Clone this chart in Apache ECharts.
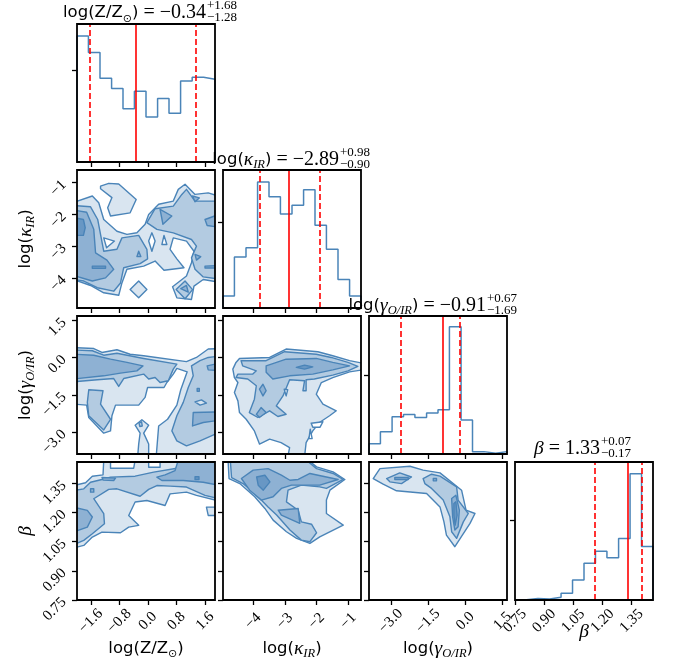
<!DOCTYPE html>
<html>
<head>
<meta charset="utf-8">
<script src="https://cdn.jsdelivr.net/npm/echarts@6.0.0/dist/echarts.min.js"></script>
<style>
  html, body { margin: 0; background: #fff; }
  #chart { width: 673px; height: 663px; }
</style>
</head>
<body>
<div id="chart"></div>
<script>
// axis ranges and ticks
const zRange = [-1.99, 1.88];
const kRange = [-4.95, -0.60];
const gRange = [-3.88, 1.68];
const bRange = [0.75, 1.46];

const zTicks = [-1.6, -0.8, 0.0, 0.8, 1.6];
const kTicks = [-4, -3, -2, -1];
const gTicks = [-3.0, -1.5, 0.0, 1.5];
const bTicks = [0.75, 0.90, 1.05, 1.20, 1.35];

// 1D histograms (12 bins each, height in units of the single y tick)
const zEdges = [-1.99, -1.67, -1.345, -1.02, -0.70, -0.38, -0.055, 0.27, 0.59, 0.915, 1.24, 1.56, 1.88];
const zHist = [1.37, 1.19, 0.91, 0.80, 0.58, 0.77, 0.49, 0.69, 0.53, 0.88, 0.92, 0.90];
const kEdges = [-4.95, -4.59, -4.225, -3.86, -3.50, -3.14, -2.775, -2.41, -2.05, -1.69, -1.325, -0.96, -0.60];
const kHist = [0.14, 0.59, 0.70, 1.46, 1.29, 1.09, 1.19, 1.37, 0.96, 0.68, 0.33, 0.14];
const gEdges = [-3.88, -3.42, -2.95, -2.49, -2.03, -1.56, -1.10, -0.64, -0.17, 0.29, 0.75, 1.22, 1.68];
const gHist = [0.13, 0.28, 0.47, 0.50, 0.46, 0.52, 0.56, 1.61, 0.43, 0.03, 0.01, 0.03];
const bEdges = [0.75, 0.809, 0.868, 0.928, 0.987, 1.046, 1.105, 1.164, 1.223, 1.283, 1.342, 1.401, 1.46];
const bHist = [0.004, 0.02, 0.012, 0.033, 0.083, 0.25, 0.46, 0.61, 0.53, 0.77, 1.58, 0.67];

// median, +err, -err
const zQuant = [-0.34, 1.68, 1.28];
const kQuant = [-2.89, 0.98, 0.90];
const gQuant = [-0.91, 0.67, 1.69];
const bQuant = [1.33, 0.07, 0.17];

// 2D contours: [level, polygon in data units], painted in order (0 = white hole)
const zkPolys = [
  [1, [[-2.1,-1.63],[-1.56,-1.42],[-1.38,-1.63],[-1.24,-2.16],[-0.87,-2.53],[-0.59,-2.63],[-0.31,-2.58],[-0.08,-2.31],[0.02,-2.00],[0.30,-1.68],[0.71,-1.58],[0.85,-1.21],[1.04,-1.05],[1.32,-1.37],[1.69,-1.32],[2.1,-1.47],[2.1,-4.16],[1.55,-4.05],[1.29,-4.26],[1.22,-4.68],[0.81,-4.63],[0.69,-4.28],[1.08,-3.94],[1.22,-3.52],[1.29,-3.16],[1.08,-2.84],[0.71,-2.74],[0.62,-3.10],[0.81,-3.40],[1.01,-3.68],[0.45,-3.76],[0.20,-3.47],[-0.12,-3.63],[-0.59,-3.73],[-0.73,-4.16],[-0.82,-4.55],[-1.24,-4.47],[-1.61,-4.24],[-2.1,-4.05]]],
  [1, [[-1.33,-1.11],[-1.10,-1.02],[-0.82,-1.04],[-0.33,-1.53],[-0.50,-1.95],[-1.05,-2.05],[-1.13,-1.79],[-1.01,-1.47],[-1.33,-1.19]]],
  [1, [[-0.50,-4.37],[-0.26,-4.10],[-0.03,-4.37],[-0.26,-4.63]]],
  [0, [[-1.24,-2.74],[-0.94,-2.84],[-1.16,-3.05]]],
  [0, [[0.11,-2.58],[0.20,-2.84],[0.11,-3.16],[0.02,-2.84]]],
  [0, [[0.45,-2.66],[0.53,-2.95],[0.39,-2.95]]],
  [2, [[-2.1,-1.72],[-1.61,-1.76],[-1.41,-2.16],[-1.33,-2.63],[-1.24,-3.16],[-0.87,-3.10],[-0.73,-2.74],[-0.26,-2.66],[-0.03,-3.10],[-0.01,-3.40],[-0.22,-3.55],[-0.68,-3.68],[-0.77,-4.16],[-0.96,-4.42],[-1.42,-4.31],[-1.80,-4.10],[-2.1,-4.05]]],
  [2, [[-0.03,-2.26],[0.20,-1.82],[0.71,-1.74],[0.95,-1.37],[1.08,-1.21],[1.32,-1.58],[1.74,-1.58],[2.1,-1.58],[2.1,-4.05],[1.55,-3.97],[1.32,-3.73],[1.22,-3.37],[1.36,-3.00],[1.22,-2.79],[0.71,-2.58],[0.25,-2.47]]],
  [2, [[0.79,-4.37],[1.04,-4.10],[1.25,-4.37],[1.04,-4.66]]],
  [3, [[-2.1,-1.86],[-1.72,-1.93],[-1.52,-2.47],[-1.47,-3.21],[-1.15,-3.44],[-0.96,-3.73],[-1.19,-4.00],[-1.56,-4.10],[-2.1,-3.92]]],
  [3, [[-0.26,-3.16],[-0.20,-3.33],[-0.31,-3.33]]],
  [3, [[0.34,-1.84],[0.67,-2.05],[0.42,-2.31]]],
  [3, [[1.25,-1.42],[1.44,-1.48],[1.32,-1.60]]],
  [3, [[1.60,-2.16],[1.87,-2.05],[2.1,-2.05],[2.1,-2.42],[1.66,-2.35]]],
  [3, [[1.32,-3.26],[1.48,-3.33],[1.36,-3.44]]],
  [3, [[1.60,-3.63],[2.1,-3.61],[2.1,-3.69],[1.60,-3.69]]],
  [3, [[0.92,-4.34],[1.08,-4.24],[1.13,-4.45]]],
  [4, [[-2.1,-2.10],[-1.81,-2.16],[-1.76,-2.42],[-1.81,-2.66],[-2.1,-2.66]]],
  [4, [[-1.56,-3.63],[-1.19,-3.63],[-1.19,-3.70],[-1.56,-3.70]]]
];

const zgPolys = [
  [1, [[-2.1,0.41],[-1.52,0.37],[-1.29,0.21],[-0.87,0.32],[-0.50,0.14],[-0.12,0.08],[1.08,-0.16],[1.36,0.01],[1.69,0.35],[2.1,0.37],[2.1,-4.0],[0.23,-4.0],[0.30,-2.75],[0.55,-2.48],[0.81,-1.91],[0.92,-1.29],[1.10,-0.57],[0.81,-0.43],[0.71,-0.66],[0.53,-1.00],[0.45,-1.20],[-0.01,-1.20],[-0.08,-1.60],[-0.26,-1.91],[-0.91,-1.91],[-1.01,-2.34],[-1.05,-2.95],[-1.24,-3.04],[-1.66,-2.41],[-1.72,-1.91],[-2.1,-1.87]]],
  [1, [[-0.36,-2.72],[-0.17,-2.50],[0.02,-2.72],[-0.12,-3.04],[0.02,-3.48],[0.02,-4.0],[-0.29,-4.0],[-0.26,-3.48],[-0.22,-3.04]]],
  [2, [[-2.1,0.31],[-1.56,0.28],[-1.24,0.10],[-0.87,0.18],[-0.12,-0.03],[0.81,-0.26],[0.71,-0.46],[0.57,-0.93],[0.34,-1.00],[0.20,-0.80],[0.02,-0.86],[-0.12,-0.66],[-0.68,-0.84],[-0.82,-1.16],[-0.96,-0.84],[-1.42,-0.89],[-2.1,-0.97]]],
  [2, [[-1.66,-1.29],[-1.26,-1.33],[-1.33,-1.87],[-1.05,-2.48],[-1.24,-2.91],[-1.66,-2.34],[-1.70,-1.80]]],
  [2, [[2.1,0.08],[1.69,0.01],[1.46,-0.12],[1.22,-0.33],[1.27,-0.73],[1.13,-1.20],[0.99,-1.80],[0.81,-2.34],[0.67,-2.95],[0.81,-3.35],[1.08,-3.55],[1.46,-3.35],[2.1,-2.95]]],
  [2, [[-0.25,-2.64],[-0.18,-2.58],[-0.16,-2.75],[-0.23,-2.77]]],
  [1, [[1.32,-1.78],[1.50,-1.70],[1.64,-1.83],[1.46,-1.91]]],
  [3, [[-2.1,0.14],[-1.52,0.10],[-1.05,-0.06],[-0.59,-0.19],[-0.14,-0.33],[-0.31,-0.53],[-0.77,-0.62],[-1.24,-0.73],[-2.1,-0.86]]],
  [3, [[1.66,-0.33],[2.1,-0.19],[2.1,-0.53],[1.69,-0.49]]],
  [3, [[1.27,-2.21],[2.1,-2.18],[2.1,-2.50],[1.55,-2.61],[1.25,-2.75]]],
  [3, [[1.38,-1.24],[1.44,-1.24],[1.44,-1.35],[1.38,-1.35]]]
];

const kgPolys = [
  [1, [[-4.43,-0.03],[-3.48,0.01],[-2.96,0.35],[-1.96,0.24],[-1.49,0.08],[-0.96,-0.12],[-0.4,-0.26],[-0.4,-0.46],[-0.96,-0.57],[-1.49,-0.80],[-1.85,-1.00],[-2.01,-1.47],[-1.80,-1.87],[-1.38,-2.14],[-1.59,-2.34],[-1.91,-2.61],[-2.12,-2.95],[-2.33,-3.42],[-2.38,-4.0],[-2.91,-4.0],[-2.85,-3.62],[-3.12,-3.42],[-3.48,-3.28],[-3.80,-3.48],[-3.96,-2.95],[-4.22,-2.48],[-4.43,-2.21],[-4.48,-1.74],[-4.59,-1.40],[-4.48,-1.00],[-4.59,-0.80],[-4.64,-0.46],[-4.54,-0.19]]],
  [2, [[-4.38,-0.12],[-3.59,-0.12],[-3.01,0.24],[-2.01,0.14],[-1.54,0.01],[-1.01,-0.19],[-0.70,-0.35],[-1.01,-0.53],[-1.49,-0.70],[-2.07,-0.86],[-2.33,-0.89],[-2.33,-1.33],[-2.43,-1.33],[-2.38,-0.93],[-2.85,-0.89],[-3.06,-1.54],[-3.27,-1.94],[-2.96,-2.28],[-3.22,-2.37],[-3.48,-2.14],[-3.85,-2.41],[-4.12,-2.21],[-3.96,-1.67],[-3.90,-1.13],[-4.17,-0.86],[-4.54,-0.80],[-4.48,-0.66],[-4.01,-0.66],[-3.90,-0.53],[-4.33,-0.33]]],
  [0, [[-2.17,-2.64],[-1.80,-2.58],[-1.89,-2.80],[-2.12,-2.80]]],
  [0, [[-2.20,-2.88],[-2.14,-3.26],[-2.24,-3.26]]],
  [0, [[-3.02,-1.27],[-2.91,-1.29],[-2.96,-1.54]]],
  [3, [[-3.59,-0.33],[-2.96,-0.06],[-2.01,-0.03],[-1.49,-0.19],[-0.96,-0.33],[-1.49,-0.49],[-2.12,-0.66],[-2.85,-0.73],[-3.38,-0.86],[-3.59,-0.59]]],
  [3, [[-3.80,-1.27],[-3.69,-1.07],[-3.59,-1.33],[-3.69,-1.54]]],
  [3, [[-3.90,-2.28],[-3.75,-2.01],[-3.59,-2.21],[-3.80,-2.41]]],
  [4, [[-2.64,-0.39],[-2.38,-0.30],[-2.12,-0.37],[-2.38,-0.46]]]
];

const zbPolys = [
  [1, [[-2.1,1.339],[-1.75,1.353],[-1.56,1.387],[-1.26,1.394],[-1.24,1.47],[2.1,1.47],[2.1,1.254],[1.36,1.288],[1.08,1.305],[0.62,1.296],[0.48,1.236],[-0.03,1.262],[-0.36,1.254],[-0.54,1.185],[-0.26,1.134],[-0.54,1.125],[-0.77,1.096],[-1.29,1.099],[-1.56,1.074],[-1.80,1.031],[-2.1,1.017]]],
  [1, [[1.64,1.228],[2.1,1.228],[2.1,1.185],[1.69,1.185]]],
  [0, [[-1.05,1.47],[-1.05,1.428],[-0.40,1.428],[-0.36,1.47]]],
  [0, [[0.02,1.47],[0.02,1.433],[0.34,1.433],[0.34,1.47]]],
  [2, [[-2.1,1.313],[-1.80,1.322],[-1.61,1.356],[-1.29,1.370],[-1.05,1.382],[-0.36,1.387],[0.16,1.408],[0.81,1.428],[1.08,1.47],[2.1,1.47],[2.1,1.267],[1.60,1.288],[1.08,1.331],[0.62,1.336],[0.25,1.339],[0.02,1.319],[-0.22,1.284],[-0.87,1.322],[-1.10,1.319],[-1.52,1.271],[-1.24,1.194],[-1.22,1.142],[-1.56,1.091],[-1.80,1.057],[-2.1,1.034]]],
  [3, [[-2.1,1.228],[-1.70,1.211],[-1.56,1.177],[-1.70,1.125],[-2.1,1.099]]],
  [3, [[0.85,1.47],[2.1,1.47],[2.1,1.336],[1.55,1.356],[0.99,1.365],[0.39,1.365],[0.25,1.382],[0.48,1.394],[0.76,1.416]]],
  [3, [[-1.29,1.380],[-0.91,1.377],[-0.96,1.365],[-1.26,1.367]]],
  [3, [[-1.61,1.322],[-1.52,1.322],[-1.52,1.305],[-1.61,1.305]]],
  [4, [[1.32,1.384],[1.43,1.384],[1.43,1.370],[1.32,1.370]]]
];

const kbPolys = [
  [1, [[-4.79,1.469],[-4.76,1.375],[-4.42,1.349],[-3.95,1.281],[-3.63,1.221],[-3.37,1.161],[-2.95,1.101],[-2.63,1.067],[-2.21,1.041],[-1.90,1.075],[-1.16,1.135],[-1.69,1.195],[-1.69,1.264],[-1.58,1.315],[-1.11,1.370],[-1.48,1.409],[-2.0,1.435],[-2.26,1.469]]],
  [2, [[-4.72,1.469],[-4.68,1.380],[-4.32,1.349],[-3.89,1.289],[-3.53,1.229],[-3.26,1.187],[-2.84,1.110],[-2.48,1.058],[-2.21,1.050],[-2.00,1.096],[-2.16,1.140],[-2.48,1.152],[-2.58,1.212],[-2.95,1.255],[-2.90,1.315],[-2.48,1.341],[-1.90,1.332],[-1.69,1.324],[-1.16,1.370],[-1.48,1.401],[-2.0,1.426],[-2.32,1.469]]],
  [3, [[-4.37,1.375],[-4.0,1.418],[-3.53,1.426],[-3.11,1.392],[-2.84,1.366],[-2.58,1.370],[-2.21,1.401],[-1.32,1.370],[-1.90,1.341],[-2.26,1.341],[-2.79,1.341],[-3.11,1.324],[-3.37,1.281],[-3.74,1.264],[-4.11,1.315]]],
  [3, [[-3.21,1.212],[-2.58,1.221],[-2.53,1.144],[-3.11,1.187]]],
  [4, [[-3.89,1.383],[-3.63,1.392],[-3.47,1.358],[-3.68,1.315],[-3.84,1.341]]]
];

const gbPolys = [
  [1, [[-3.71,1.375],[-3.44,1.426],[-2.23,1.438],[-1.70,1.418],[-1.02,1.404],[-0.15,1.315],[0.03,1.212],[0.39,1.195],[0.19,1.144],[-0.42,1.024],[-0.76,1.084],[-0.86,1.152],[-1.02,1.229],[-1.56,1.298],[-2.77,1.312],[-3.31,1.346]]],
  [2, [[-3.17,1.375],[-2.64,1.404],[-2.17,1.383],[-2.57,1.349],[-3.04,1.358]]],
  [2, [[-1.70,1.375],[-1.36,1.397],[-1.02,1.387],[-0.35,1.332],[-0.29,1.264],[0.12,1.195],[-0.08,1.152],[-0.35,1.067],[-0.55,1.101],[-0.62,1.178],[-0.89,1.264],[-1.36,1.324],[-1.63,1.349]]],
  [3, [[-2.84,1.380],[-2.30,1.380],[-2.30,1.370],[-2.84,1.370]]],
  [3, [[-0.55,1.272],[-0.38,1.289],[-0.24,1.212],[-0.29,1.127],[-0.42,1.110],[-0.51,1.178]]],
  [3, [[-1.29,1.375],[-1.16,1.375],[-1.16,1.363],[-1.29,1.363]]],
  [4, [[-0.46,1.246],[-0.38,1.255],[-0.33,1.187],[-0.41,1.135],[-0.46,1.187]]]
];

const histMax = [1.5, 1.6, 1.745, 1.727];

const BLUE = '#4a84b8';
const FILLS = ['#ffffff', '#d9e5f0', '#b3cbe1', '#8eb1d3', '#6897c4'];
const SERIF = 'Liberation Serif';
const SANS = 'DejaVu Sans';

const LEFT0 = 77, TOP0 = 24, STEP = 146, SIZE = 138;

function minus(s) { return String(s).replace('-', '\u2212'); }

const richStyle = {
  a: { fontFamily: SANS, fontSize: 16.5, lineHeight: 23, color: '#000' },
  m: { fontFamily: SERIF, fontStyle: 'italic', fontSize: 19.5, lineHeight: 23, color: '#000' },
  n: { fontFamily: SERIF, fontSize: 20, lineHeight: 23, color: '#000' },
  s: { fontFamily: SERIF, fontStyle: 'italic', fontSize: 12.5, lineHeight: 13, verticalAlign: 'bottom', color: '#000' },
  o: { fontFamily: SANS, fontSize: 11, lineHeight: 13, verticalAlign: 'bottom', color: '#000' }
};

const params = [
  { range: zRange, ticks: zTicks, dec: 1, label: '{a|log(Z/Z}{o|\u2299}{a|)}', edges: zEdges, hist: zHist, q: zQuant },
  { range: kRange, ticks: kTicks, dec: 0, label: '{a|log(}{m|\u03ba}{s|IR}{a|)}', edges: kEdges, hist: kHist, q: kQuant },
  { range: gRange, ticks: gTicks, dec: 1, label: '{a|log(}{m|\u03b3}{s|O/IR}{a|)}', edges: gEdges, hist: gHist, q: gQuant },
  { range: bRange, ticks: bTicks, dec: 2, label: '{m|\u03b2}', edges: bEdges, hist: bHist, q: bQuant }
];
const contours = { '1,0': zkPolys, '2,0': zgPolys, '2,1': kgPolys, '3,0': zbPolys, '3,1': kbPolys, '3,2': gbPolys };

const grids = [], xAxes = [], yAxes = [], series = [];

function tickStyle(vals) {
  return { show: true, length: 5, inside: false, customValues: vals, lineStyle: { color: '#000', width: 1.3 } };
}
function labelStyle(show, vals, dec, isX) {
  const s = {
    show: show, customValues: vals, rotate: 45,
    fontFamily: SERIF, fontSize: 15, color: '#000',
    formatter: v => minus(Number(v).toFixed(dec))
  };
  if (isX) { s.margin = 21; s.align = 'center'; s.verticalAlign = 'middle'; }
  else { s.margin = 13; }
  return s;
}

for (let i = 0; i < 4; i++) {
  for (let j = 0; j <= i; j++) {
    const gi = grids.length;
    grids.push({
      left: LEFT0 + j * STEP, top: TOP0 + i * STEP, width: SIZE, height: SIZE,
      show: true, borderColor: '#000', borderWidth: 1.8, backgroundColor: 'rgba(0,0,0,0)', z: 10
    });
    const px = params[j];
    const bottom = i === 3;
    xAxes.push({
      type: 'value', gridIndex: gi, position: 'bottom', min: px.range[0], max: px.range[1],
      axisLine: { show: false, onZero: false }, splitLine: { show: false },
      axisTick: tickStyle(px.ticks),
      axisLabel: labelStyle(bottom, px.ticks, px.dec, true),
      name: bottom ? px.label : '', nameLocation: 'middle',
      nameGap: j === 3 ? 20 : 37, nameMoveOverlap: false,
      nameTextStyle: { rich: richStyle }
    });
    if (i === j) {
      yAxes.push({
        type: 'value', gridIndex: gi, position: 'left', min: 0, max: histMax[i],
        axisLine: { show: false, onZero: false }, splitLine: { show: false },
        axisTick: tickStyle([1]), axisLabel: { show: false, customValues: [1] }
      });
      const pts = [[px.edges[0], 0]];
      px.hist.forEach((h, k) => pts.push([px.edges[k], h]));
      pts.push([px.edges[12], px.hist[11]], [px.edges[12], 0]);
      const q = px.q;
      series.push({
        type: 'line', xAxisIndex: gi, yAxisIndex: gi, data: pts, step: 'end',
        showSymbol: false, silent: true, animation: false, clip: true,
        lineStyle: { color: BLUE, width: 1.5 },
        markLine: {
          symbol: ['none', 'none'], silent: true, animation: false,
          label: { show: false },
          lineStyle: { color: '#ff0000', width: 1.6, type: 'solid' },
          data: [
            { xAxis: q[0] },
            { xAxis: q[0] - q[2], lineStyle: { type: [6, 3] } },
            { xAxis: q[0] + q[1], lineStyle: { type: [6, 3] } }
          ]
        }
      });
    } else {
      const py = params[i];
      const left = j === 0;
      yAxes.push({
        type: 'value', gridIndex: gi, position: 'left', min: py.range[0], max: py.range[1],
        axisLine: { show: false, onZero: false }, splitLine: { show: false },
        axisTick: tickStyle(py.ticks),
        axisLabel: labelStyle(left, py.ticks, py.dec, false),
        name: left ? py.label : '', nameLocation: 'middle', nameGap: 40, nameMoveOverlap: false,
        nameTextStyle: { rich: richStyle }
      });
      const polys = contours[i + ',' + j];
      series.push({
        type: 'custom', xAxisIndex: gi, yAxisIndex: gi, silent: true, animation: false, clip: true,
        data: polys.map(p => p[1][0]),
        renderItem: function (prm, api) {
          const poly = polys[prm.dataIndex];
          return {
            type: 'polygon', z2: prm.dataIndex,
            shape: { points: poly[1].map(p => api.coord(p)) },
            style: { fill: FILLS[poly[0]], stroke: BLUE, lineWidth: 1.4, lineJoin: 'round' }
          };
        }
      });
    }
  }
}

// titles above the diagonal panels
const titleHeads = ['{a|log(Z/Z}{o|\u2299}{a|)}', '{a|log(}{m|\u03ba}{s|IR}{a|)}', '{a|log(}{m|\u03b3}{s|O/IR}{a|)}', '{m|\u03b2}'];
const titleX = [206, 339, 486, 600];
const titleY = [13, 160, 306, 449];
const graphics = [];
params.forEach((p, k) => {
  const q = p.q;
  graphics.push({
    type: 'text', x: titleX[k], y: titleY[k], z: 20, silent: true,
    style: { text: titleHeads[k] + '{n| = ' + minus(q[0].toFixed(2)) + '}', rich: richStyle, align: 'right', verticalAlign: 'middle' }
  });
  graphics.push({
    type: 'text', x: titleX[k] + 1, y: titleY[k] - 7, z: 20, silent: true,
    style: { text: '+' + q[1].toFixed(2), font: '13px "' + SERIF + '"', fill: '#000', align: 'left', verticalAlign: 'middle' }
  });
  graphics.push({
    type: 'text', x: titleX[k] + 1, y: titleY[k] + 5, z: 20, silent: true,
    style: { text: '\u2212' + q[2].toFixed(2), font: '13px "' + SERIF + '"', fill: '#000', align: 'left', verticalAlign: 'middle' }
  });
});

const chart = echarts.init(document.getElementById('chart'), null, { renderer: 'canvas' });
chart.setOption({
  animation: false,
  backgroundColor: '#fff',
  grid: grids,
  xAxis: xAxes,
  yAxis: yAxes,
  series: series,
  graphic: graphics
});
</script>
</body>
</html>
